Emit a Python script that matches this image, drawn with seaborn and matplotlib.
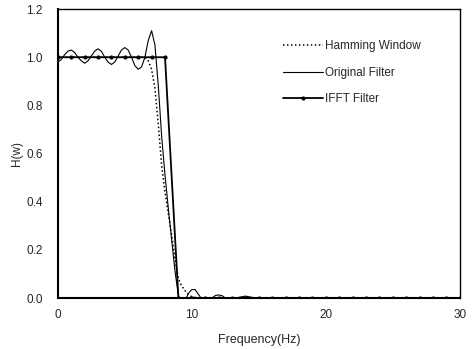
import numpy as np
import pandas as pd
import seaborn as sns
import matplotlib
matplotlib.use('Agg')
import matplotlib.pyplot as plt

# Values
ifft_freq = list(range(0, 31))
ifft_h = [1.0] * 9 + [0.0] * 22

orig_freq = [0.0, 0.25, 0.5, 0.75, 1.0, 1.25, 1.5, 1.75, 2.0, 2.25, 2.5, 2.75,
             3.0, 3.25, 3.5, 3.75, 4.0, 4.25, 4.5, 4.75, 5.0, 5.25, 5.5, 5.75,
             6.0, 6.25, 6.5, 6.75, 7.0, 7.25, 7.5, 7.75, 8.0, 8.25, 8.5, 8.75,
             9.0, 9.25, 9.5, 9.75, 10.0, 10.25, 10.5, 10.75, 11.0, 11.25, 11.5,
             11.75, 12.0, 12.25, 12.5, 13.0, 13.5, 14.0, 14.5, 15.0, 16.0, 18.0,
             20.0, 22.0, 24.0, 26.0, 28.0, 30.0]
orig_h = [0.98, 0.99, 1.01, 1.025, 1.03, 1.02, 1.0, 0.985, 0.975, 0.985, 1.005, 1.025,
          1.035, 1.025, 1.0, 0.98, 0.97, 0.98, 1.005, 1.03, 1.04, 1.03, 1.0, 0.965,
          0.95, 0.96, 1.0, 1.07, 1.11, 1.05, 0.88, 0.67, 0.51, 0.37, 0.24, 0.11,
          0.01, -0.02, -0.01, 0.02, 0.035, 0.035, 0.015, -0.005, -0.01, -0.01, 0.0,
          0.01, 0.013, 0.01, 0.0, -0.005, 0.003, 0.008, 0.003, -0.002, 0.0, 0.0,
          0.0, 0.0, 0.0, 0.0, 0.0, 0.0]

ham_freq = [0, 1, 2, 3, 4, 5, 6, 6.5, 6.75, 7.0, 7.25, 7.5, 7.75, 8.0, 8.25, 8.5,
            8.75, 9.0, 9.25, 9.5, 9.75, 10.0, 10.5, 12, 15, 20, 25, 30]
ham_h = [1.0, 1.0, 1.0, 1.0, 1.0, 1.0, 1.0, 1.0, 0.985, 0.95, 0.87, 0.72, 0.55, 0.44,
         0.35, 0.26, 0.16, 0.08, 0.05, 0.03, 0.015, 0.005, 0.0, 0.0, 0.0, 0.0, 0.0, 0.0]

sns.set_style('white')
plt.rcParams['font.family'] = ['Liberation Sans', 'DejaVu Sans']

fig = plt.figure(figsize=(4.74, 3.49), dpi=100)
ax = fig.add_axes([0.122, 0.146, 0.848, 0.828])

sns.lineplot(x=ham_freq, y=ham_h, ax=ax, color='black', lw=1.1,
             linestyle=(0, (1, 1.6)), label='Hamming Window', estimator=None, sort=False)
sns.lineplot(x=orig_freq, y=orig_h, ax=ax, color='black', lw=0.8,
             label='Original Filter', estimator=None, sort=False)
sns.lineplot(x=ifft_freq, y=ifft_h, ax=ax, color='black', lw=1.3, marker='o',
             markersize=3, markeredgewidth=0, label='IFFT Filter', estimator=None, sort=False)

ax.set_xlim(0, 30)
ax.set_ylim(0, 1.2)
ax.set_xticks([0, 10, 20, 30])
ax.set_yticks(np.arange(0, 1.21, 0.2))
ax.set_yticklabels(['%.1f' % v for v in np.arange(0, 1.21, 0.2)])
ax.tick_params(direction='in', length=3, labelsize=8.5, width=0.8, pad=11)
ax.tick_params(axis='x', length=0, pad=8)
for s in ax.spines.values():
    s.set_color('black')
    s.set_linewidth(1.0)
ax.spines['left'].set_linewidth(1.5)
ax.spines['bottom'].set_linewidth(1.5)

ax.set_xlabel('Frequency(Hz)', fontsize=9, labelpad=9)
ax.set_ylabel('H(w)', fontsize=8.5, labelpad=2)

leg = ax.legend(loc='upper right', bbox_to_anchor=(0.93, 0.93), frameon=False,
                fontsize=8.5, handlelength=3.4, handletextpad=0.2, labelspacing=1.25)

fig.savefig('out.png', dpi=100)
